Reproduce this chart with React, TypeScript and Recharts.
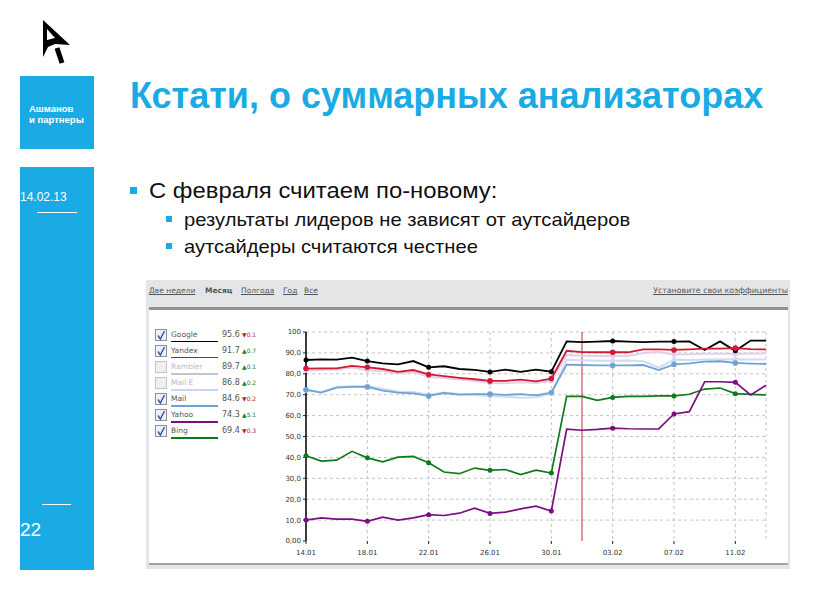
import React from "react";
import { LineChart, Line, XAxis, YAxis, CartesianGrid, ReferenceLine } from "recharts";

const days = [0,1,2,3,4,5,6,7,8,9,10,11,12,13,14,15,16,17,18,19,20,21,22,23,24,25,26,27,28,29,30];
const tickDays = [0,4,8,12,16,20,24,28];
const tickDates = ["14.01","18.01","22.01","26.01","30.01","03.02","07.02","11.02"];
const yTicks = [0,10,20,30,40,50,60,70,80,90,100];
const yLabels = ["0,00","10,0","20,0","30,0","40,0","50,0","60,0","70,0","80,0","90,0","100"];
const cursorDay = 18;

const google = [86.6,86.9,86.8,87.7,86.1,85,84.5,86.1,83.1,83.6,82.3,81.9,80.9,82,80.9,82,81,95.5,95.2,95.4,95.7,95.4,95.2,95.4,95.4,95.5,91.4,95.5,91,95.9,95.9];
const yandex = [82.5,82.6,82.6,83.8,83.1,82.3,80.9,81.8,79.7,78.9,78.1,77.4,76.6,76.6,77.2,76.4,77.7,91,90.4,90.3,90.3,90.3,91.7,91.7,91.4,91.7,92,92,92.3,91.8,91.7];
const rambler = [81.6,81.8,82,83,81.7,81.3,80.2,81,78.6,78,77.3,76.6,75.6,75.5,76,75.6,76.5,89,88.6,88.5,88.6,88.5,90,90.4,89.2,89.4,89.6,89.6,89.6,89.7,89.7];
const mailE = [72,71.2,73.8,74,74.2,72.8,71.5,71.3,70,71,70.3,69.8,69.4,69,68.5,68.8,70.5,86.7,86.5,86.3,86.3,86.4,86,83,86.7,86.6,86.8,86.8,87,86.8,86.8];
const mail = [72.4,71,73.4,73.7,73.7,72,71,70.6,69.4,70.8,70,70.3,70.3,69.9,70.3,69.7,71,84.4,84.2,84,84,84,84.2,81.8,84.5,85,85.8,86,85.2,84.9,84.7];
const yahoo = [10,11.1,10.5,10.5,9.4,11.4,10,11.1,12.6,12.2,13.3,15.7,13.2,13.8,15.4,16.7,14.3,53.5,53,53.4,54,53.7,53.6,53.6,60.8,61.9,76.2,76.2,75.9,69.9,74.5];
const bing = [40.8,38.2,38.7,42.9,39.8,37.9,40.1,40.5,37.4,33,32.2,34.9,33.8,34.2,31.8,33.9,32.5,69.2,69.2,67.3,68.7,69.2,69.2,69.4,69.4,70.2,72.7,73.2,70.5,70.2,69.9];

const legendNames = ["Google","Yandex","Rambler","Mail E","Mail","Yahoo","Bing"];
const legendValues = ["95.6","91.7","89.7","86.8","84.6","74.3","69.4"];
const legendDeltas = ["0.1","0.7","0.1","0.2","0.2","5.1","0.3"];
const legendUp = [false,true,true,true,false,true,false];
const legendChecked = [true,true,false,false,true,true,true];
const legendColors = ["#000000","#a8202f","#c4c4d0","#ccd4f0","#6fa3d2","#7a0f7f","#0f7a1c"];
const navLinks = ["Две недели","Месяц","Полгода","Год","Все"];

const chartData = days.map((d, i) => ({
  day: d, google: google[i], yandex: yandex[i], rambler: rambler[i],
  mailE: mailE[i], mail: mail[i], yahoo: yahoo[i], bing: bing[i],
}));

const BLUE = "#1aabe5";
const SANS = "'Liberation Sans', Arial, sans-serif";
const GRID = "#c4c4c4";

const makeDot = (color: string, r: number) => (p: any) => {
  if (p.index % 4 !== 0) return <g key={p.index} />;
  return <circle key={p.index} cx={p.cx} cy={p.cy} r={r} fill={color} stroke="none" />;
};

const abs = (left: number, top: number, extra: React.CSSProperties = {}): React.CSSProperties => ({
  position: "absolute", left, top, whiteSpace: "nowrap", ...extra,
});

const Bullet = ({ x, y, s }: { x: number; y: number; s: number }) => (
  <div style={abs(x, y, { width: s, height: s, background: BLUE })} />
);

const Check = ({ on, x, y }: { on: boolean; x: number; y: number }) => (
  <svg style={abs(x, y)} width={12} height={12}>
    <rect x={0.5} y={0.5} width={11} height={11} fill={on ? "#eef2f8" : "#f0f0f0"} stroke={on ? "#8a8f9a" : "#c4c4c4"} />
    {on && <path d="M3 6.5 L5.3 10 L9.5 2" fill="none" stroke="#33549e" strokeWidth={1.4} />}
  </svg>
);

export default function App() {
  return (
    <div style={{ position: "absolute", left: 0, top: 0, width: 822, height: 595, background: "#fff", fontFamily: SANS, overflow: "hidden" }}>
      <svg style={abs(36, 14)} width={40} height={56} viewBox="36 14 40 56">
        <path d="M43 20 L70 45 L55 44 L48 47 L43 57 Z" fill="#000" />
        <path d="M47 29 L55 38 L47 40 Z" fill="#fff" />
        <path d="M57 48 L62 63" stroke="#000" strokeWidth={5} fill="none" />
      </svg>
      <div style={abs(20, 76, { width: 74, height: 73, background: BLUE })} />
      <div style={abs(29, 103, { color: "#fff", fontSize: 9.5, fontWeight: 700, lineHeight: "11px" })}>Ашманов<br />и партнеры</div>
      <div style={abs(20, 167, { width: 74, height: 403, background: BLUE })} />
      <div style={abs(20, 190, { color: "#fff", fontSize: 12 })}>14.02.13</div>
      <div style={abs(37, 212, { width: 40, height: 1, background: "#fff" })} />
      <div style={abs(42, 504, { width: 29, height: 1, background: "#fff" })} />
      <div style={abs(20, 519, { color: "#fff", fontSize: 19 })}>22</div>

      <div style={abs(130, 75, { color: BLUE, fontSize: 36, fontWeight: 700 })}>Кстати, о суммарных анализаторах</div>
      <Bullet x={130} y={187} s={7} />
      <div style={abs(149, 178, { color: "#111", fontSize: 22, transform: "scaleX(1.084)", transformOrigin: "left" })}>С февраля считаем по-новому:</div>
      <Bullet x={166} y={216} s={6} />
      <div style={abs(184, 209, { color: "#111", fontSize: 19, transform: "scaleX(1.062)", transformOrigin: "left" })}>результаты лидеров не зависят от аутсайдеров</div>
      <Bullet x={166} y={243} s={6} />
      <div style={abs(184, 236, { color: "#111", fontSize: 19, transform: "scaleX(1.062)", transformOrigin: "left" })}>аутсайдеры считаются честнее</div>

      <div style={abs(146, 280, { width: 644, height: 289, background: "#e4e5e7" })} />
      <div style={abs(149, 307, { width: 639, height: 3, background: "#909294" })} />
      <div style={abs(149, 310, { width: 639, height: 253, background: "#fff" })} />
      <div style={abs(149, 563, { width: 639, height: 2, background: "#a0a2a4" })} />

      {navLinks.map((t, i) => (
        <div key={t} style={abs([149, 205, 241, 283, 304][i], 286, {
          fontFamily: "'DejaVu Sans', sans-serif", fontSize: 7.5, color: "#555",
          fontWeight: i === 1 ? 700 : 400, textDecoration: i === 1 ? "none" : "underline",
        })}>{t}</div>
      ))}
      <div style={{ position: "absolute", right: 34, top: 286, whiteSpace: "nowrap", fontFamily: "'DejaVu Sans', sans-serif", fontSize: 7.85, color: "#555", textDecoration: "underline" }}>Установите свои коэффициенты</div>

      {legendNames.map((n, i) => {
        const top = 329 + i * 16;
        return (
          <React.Fragment key={n}>
            <Check on={legendChecked[i]} x={155} y={top} />
            <div style={abs(171, top + 1, { fontFamily: "'DejaVu Sans', sans-serif", fontSize: 7.5, color: legendChecked[i] ? "#555" : "#bbb" })}>{n}</div>
            <div style={abs(171, top + 12, { width: 47, height: i === 0 || i === 1 ? 1 : 2, background: legendColors[i] })} />
            <div style={abs(222, top + 1, { fontFamily: "'DejaVu Sans', sans-serif", fontSize: 8, color: "#555" })}>{legendValues[i]}</div>
            <div style={abs(242, top + 2, { fontFamily: "'DejaVu Sans', sans-serif", fontSize: 6, color: legendUp[i] ? "#1e7a2c" : "#c01f2f" })}>{legendUp[i] ? "▲" : "▼"}{legendDeltas[i]}</div>
          </React.Fragment>
        );
      })}

      <div style={abs(146, 280)}>
        <LineChart width={644} height={288} data={chartData} margin={{ top: 52, right: 24, bottom: 0, left: 0 }}>
          <CartesianGrid horizontal={false} stroke={GRID} strokeDasharray="3 3" />
          {yTicks.filter((v) => v > 0).map((v) => (
            <ReferenceLine key={v} y={v} stroke={GRID} strokeDasharray="3 3" />
          ))}
          <XAxis
            dataKey="day" type="number" domain={[0, 30]} ticks={tickDays} height={27}
            axisLine={false} tickLine={{ stroke: "#222" }} tickSize={3} interval={0}
            tickFormatter={(v: number) => tickDates[tickDays.indexOf(v)]}
            tick={{ fontFamily: "'DejaVu Sans', sans-serif", fontSize: 7, fill: "#333", dy: 4 }}
          />
          <YAxis
            type="number" domain={[0, 100]} ticks={yTicks} width={160} interval={0}
            axisLine={{ stroke: "#000", strokeWidth: 1.5 }} tickLine={{ stroke: "#222" }} tickSize={3}
            tickFormatter={(v: number) => yLabels[yTicks.indexOf(v)]}
            tick={{ fontFamily: "'DejaVu Sans', sans-serif", fontSize: 7, fill: "#333" }}
          />
          <ReferenceLine x={cursorDay} stroke="#b5313f" strokeWidth={1} />
          <Line dataKey="rambler" stroke="#e3cfe9" strokeWidth={2} dot={makeDot("#e3cfe9", 2.5)} isAnimationActive={false} />
          <Line dataKey="mailE" stroke="#cfdcf3" strokeWidth={2} dot={makeDot("#cfdcf3", 2.5)} isAnimationActive={false} />
          <Line dataKey="bing" stroke="#0f7a1c" strokeWidth={1.7} dot={makeDot("#0f7a1c", 2.5)} isAnimationActive={false} />
          <Line dataKey="yahoo" stroke="#7a0f7f" strokeWidth={1.7} dot={makeDot("#7a0f7f", 2.5)} isAnimationActive={false} />
          <Line dataKey="mail" stroke="#6fa3d2" strokeWidth={1.8} dot={makeDot("#6fa3d2", 2.8)} isAnimationActive={false} />
          <Line dataKey="google" stroke="#000" strokeWidth={1.8} dot={makeDot("#000", 2.5)} isAnimationActive={false} />
          <Line dataKey="yandex" stroke="#d01c30" strokeWidth={1.8} dot={makeDot("#d01c30", 2.8)} isAnimationActive={false} />
        </LineChart>
      </div>
    </div>
  );
}
